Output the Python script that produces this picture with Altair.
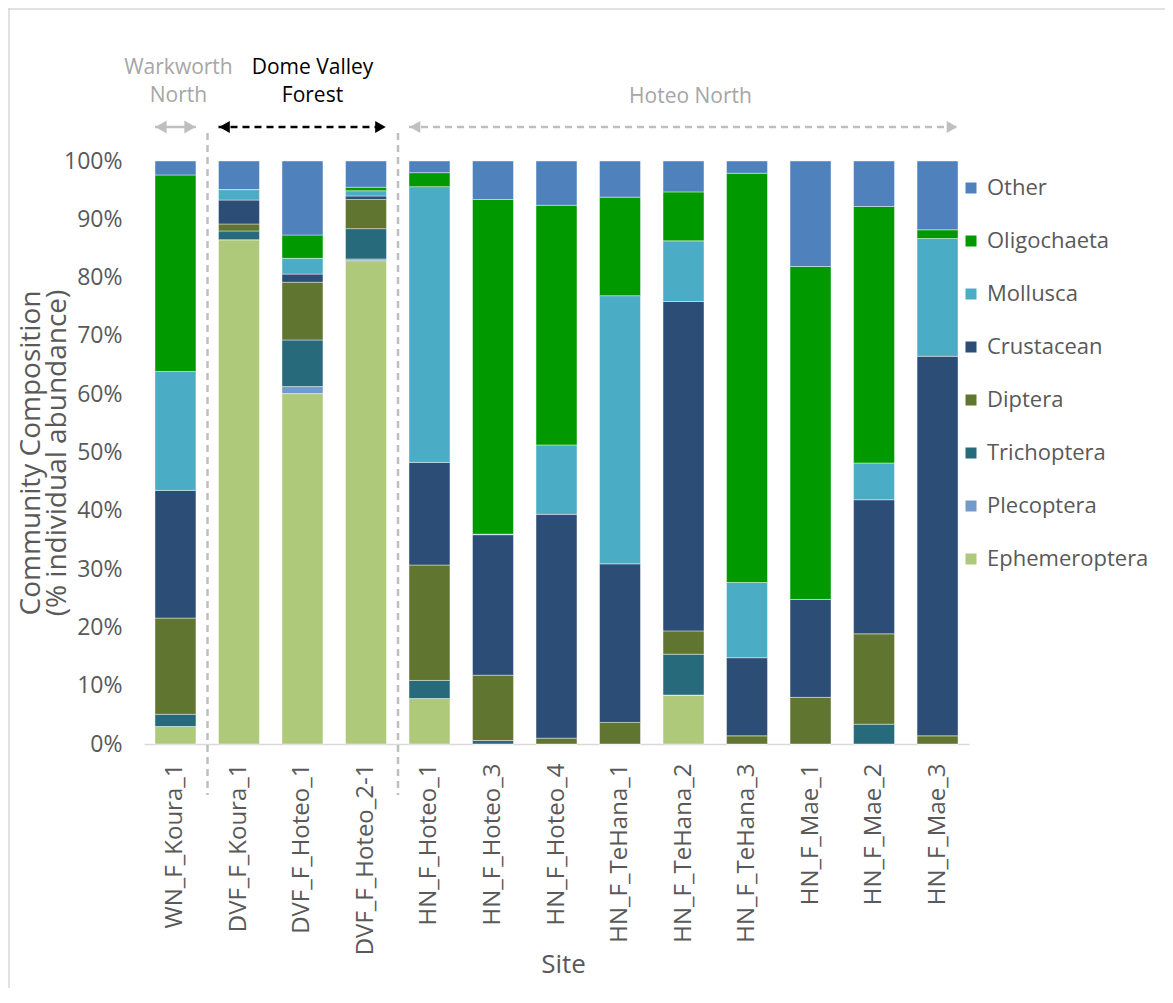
import altair as alt
import pandas as pd

sites = ["WN_F_Koura_1", "DVF_F_Koura_1", "DVF_F_Hoteo_1", "DVF_F_Hoteo_2-1",
         "HN_F_Hoteo_1", "HN_F_Hoteo_3", "HN_F_Hoteo_4", "HN_F_TeHana_1",
         "HN_F_TeHana_2", "HN_F_TeHana_3", "HN_F_Mae_1", "HN_F_Mae_2", "HN_F_Mae_3"]

# % individual abundance per site
ephemeroptera = [3.0, 86.5, 60.1, 82.9, 7.8, 0.0, 0.0, 0.0, 8.4, 0.0, 0.0, 0.0, 0.0]
plecoptera    = [0.0, 0.0, 1.2, 0.3, 0.0, 0.0, 0.0, 0.0, 0.0, 0.0, 0.0, 0.0, 0.0]
trichoptera   = [2.1, 1.5, 8.0, 5.2, 3.1, 0.6, 0.0, 0.0, 7.0, 0.0, 0.0, 3.4, 0.0]
diptera       = [16.5, 1.2, 9.9, 5.0, 19.8, 11.2, 1.0, 3.7, 4.0, 1.4, 8.0, 15.5, 1.4]
crustacean    = [21.9, 4.1, 1.4, 0.6, 17.6, 24.1, 38.4, 27.2, 56.5, 13.4, 16.8, 23.0, 65.1]
mollusca      = [20.4, 1.8, 2.7, 0.9, 47.3, 0.1, 11.9, 46.0, 10.4, 12.9, 0.0, 6.3, 20.2]
oligochaeta   = [33.7, 0.0, 4.0, 0.6, 2.4, 57.4, 41.1, 16.9, 8.4, 70.2, 57.1, 44.0, 1.5]
other         = [2.4, 4.9, 12.7, 4.5, 2.0, 6.6, 7.6, 6.2, 5.3, 2.1, 18.1, 7.8, 11.8]

taxa_legend = ["Other", "Oligochaeta", "Mollusca", "Crustacean", "Diptera",
               "Trichoptera", "Plecoptera", "Ephemeroptera"]
taxa_colors = ["#4F81BD", "#009900", "#4BACC6", "#2C4D75", "#60752F",
               "#276A7C", "#729ACA", "#AFC97A"]

stack_order = ["Ephemeroptera", "Plecoptera", "Trichoptera", "Diptera",
               "Crustacean", "Mollusca", "Oligochaeta", "Other"]
series = {"Ephemeroptera": ephemeroptera, "Plecoptera": plecoptera,
          "Trichoptera": trichoptera, "Diptera": diptera, "Crustacean": crustacean,
          "Mollusca": mollusca, "Oligochaeta": oligochaeta, "Other": other}

# site groups (annotations above the bars)
group_labels = ["Warkworth\nNorth", "Dome Valley\nForest", "Hoteo North"]
group_first = ["WN_F_Koura_1", "DVF_F_Koura_1", "HN_F_Hoteo_1"]
group_last = ["WN_F_Koura_1", "DVF_F_Hoteo_2-1", "HN_F_Mae_3"]
group_mid = ["WN_F_Koura_1", "DVF_F_Hoteo_1", "HN_F_TeHana_2"]
group_colors = ["#A6A6A6", "#000000", "#A6A6A6"]
arrow_colors = ["#BFBFBF", "#000000", "#BFBFBF"]

rows = []
for k, taxon in enumerate(stack_order):
    for s, v in zip(sites, series[taxon]):
        rows.append({"site": s, "taxon": taxon, "value": v, "stack_idx": k})
df = pd.DataFrame(rows)

FONT = "Open Sans"
GREY = "#595959"
W, H = 825, 583

x_scale = alt.Scale(domain=sites, paddingInner=0.355, paddingOuter=0.173)
x_axis = alt.Axis(labelAngle=-90, ticks=False, grid=False, labelPadding=19,
                  domainColor="#D9D9D9", domainWidth=1.5, labelLimit=400,
                  labelFont=FONT, labelFontSize=24, labelColor=GREY,
                  titleFont=FONT, titleFontSize=26, titleColor=GREY,
                  titleFontWeight="normal", titleY=220, titleX=419,
                  titleBaseline="middle")


def xenc(field, band=None):
    kw = dict(scale=x_scale, axis=x_axis, title="Site")
    if band is not None:
        kw["bandPosition"] = band
    return alt.X(f"{field}:N", **kw)


bars = alt.Chart(df).mark_bar(stroke="#FFFFFF", strokeWidth=0.6, strokeOpacity=0.7).encode(
    x=xenc("site"),
    y=alt.Y("value:Q", stack="zero", scale=alt.Scale(domain=[0, 100], nice=False),
            title=["Community Composition", "(% individual abundance)"],
            axis=alt.Axis(values=list(range(0, 101, 10)), labelExpr="datum.value + '%'",
                          grid=False, ticks=False, domain=False, labelPadding=22,
                          labelFont=FONT, labelFontSize=23, labelColor=GREY,
                          titleFont=FONT, titleFontSize=28, titleColor=GREY,
                          titleFontWeight="normal", titleAngle=270, titleX=-127,
                          titleY=291.5, titleAlign="center", titleBaseline="top",
                          titleLineHeight=26, titleLimit=1000)),
    color=alt.Color("taxon:N", scale=alt.Scale(domain=taxa_legend, range=taxa_colors),
                    title=None,
                    legend=alt.Legend(orient="none", legendX=816, legendY=16,
                                      symbolType="square", symbolSize=121,
                                      symbolStrokeWidth=0, labelFont=FONT,
                                      labelFontSize=22, labelColor=GREY,
                                      labelOffset=5, rowPadding=31, padding=0,
                                      labelLimit=400)),
    order=alt.Order("stack_idx:Q", sort="ascending"),
)

layers = [bars]

# dashed separators between site groups
sep_df = pd.DataFrame({"site": group_first[1:]})
seps = alt.Chart(sep_df).mark_rule(color="#BFBFBF", strokeWidth=2.5, strokeDash=[7, 5],
                                   xOffset=-11).encode(
    x=xenc("site", 0), y=alt.value(-28), y2=alt.value(634))
layers.append(seps)

text_dx = [3, 10, 7]
text_y = [-83, -83, -54]
head_size = [170, 150, 150]
for i in range(3):
    gdf = pd.DataFrame({"site": [group_mid[i]], "start": [group_first[i]],
                        "end": [group_last[i]], "label": [group_labels[i]]})
    dashed = i > 0
    rule_kwargs = dict(color=arrow_colors[i], strokeWidth=2.5)
    if dashed:
        rule_kwargs["strokeDash"] = [7, 5]
    rule = alt.Chart(gdf).mark_rule(**rule_kwargs).encode(
        x=xenc("start", 0),
        x2=alt.X2("end:N", bandPosition=1),
        y=alt.value(-34))
    left_head = alt.Chart(gdf).mark_point(shape="triangle-left", filled=True,
                                          size=head_size[i], opacity=1,
                                          color=arrow_colors[i], xOffset=6).encode(
        x=xenc("start", 0), y=alt.value(-34))
    right_head = alt.Chart(gdf).mark_point(shape="triangle-right", filled=True,
                                           size=head_size[i], opacity=1,
                                           color=arrow_colors[i], xOffset=-6).encode(
        x=xenc("end", 1), y=alt.value(-34))
    txt = alt.Chart(gdf).mark_text(font=FONT, fontSize=21, color=group_colors[i],
                                   lineBreak="\n", lineHeight=28, baseline="bottom",
                                   align="center", dx=text_dx[i]).encode(
        x=xenc("site"), y=alt.value(text_y[i]), text="label:N")
    layers += [rule, left_head, right_head, txt]

# chart frame (left and top edges)
frame_df = pd.DataFrame({"k": [0]})
frame_left = alt.Chart(frame_df).mark_rule(color="#D9D9D9", strokeWidth=1.5).encode(
    x=alt.value(-135), y=alt.value(-153), y2=alt.value(H + 244))
frame_top = alt.Chart(frame_df).mark_rule(color="#D9D9D9", strokeWidth=1.5).encode(
    x=alt.value(-136), x2=alt.value(W + 196), y=alt.value(-152))
layers += [frame_left, frame_top]

chart = alt.layer(*layers).properties(
    width=W, height=H,
    autosize=alt.AutoSizeParams(type="none"),
    padding={"left": 136, "top": 153, "right": 196, "bottom": 244},
).configure_view(strokeWidth=0)

chart.save("out.html", embed_options={"renderer": "svg", "actions": False})
